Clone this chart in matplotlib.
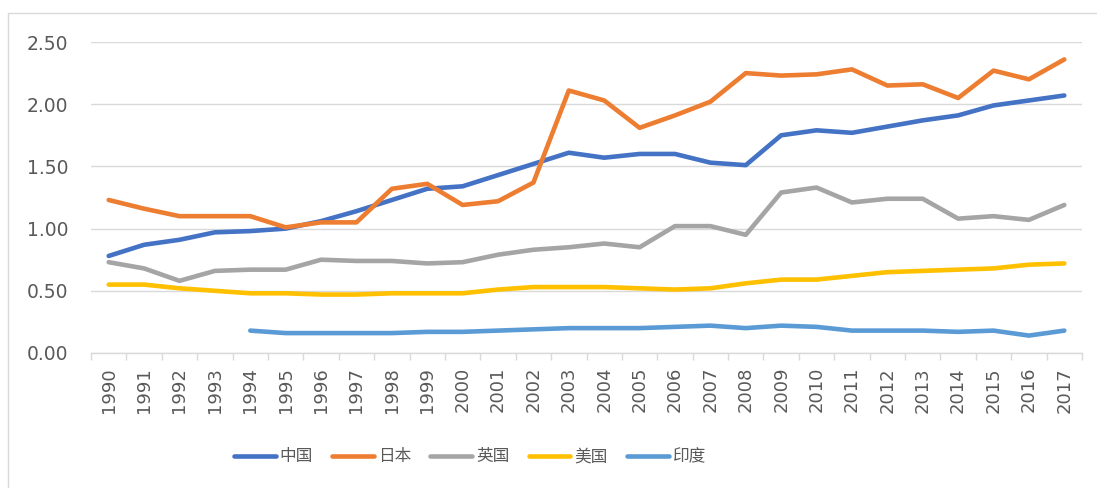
import matplotlib.pyplot as plt
import numpy as np
from matplotlib.patches import Rectangle

plt.rcParams['font.family'] = ['DejaVu Sans', 'Noto Sans CJK SC']

years = [str(y) for y in range(1990, 2018)]

china = [0.78, 0.87, 0.91, 0.97, 0.98, 1.00, 1.06, 1.14, 1.23, 1.32, 1.34, 1.43, 1.52, 1.61,
         1.57, 1.60, 1.60, 1.53, 1.51, 1.75, 1.79, 1.77, 1.82, 1.87, 1.91, 1.99, 2.03, 2.07]
japan = [1.23, 1.16, 1.10, 1.10, 1.10, 1.01, 1.05, 1.05, 1.32, 1.36, 1.19, 1.22, 1.37, 2.11,
         2.03, 1.81, 1.91, 2.02, 2.25, 2.23, 2.24, 2.28, 2.15, 2.16, 2.05, 2.27, 2.20, 2.36]
uk = [0.73, 0.68, 0.58, 0.66, 0.67, 0.67, 0.75, 0.74, 0.74, 0.72, 0.73, 0.79, 0.83, 0.85,
      0.88, 0.85, 1.02, 1.02, 0.95, 1.29, 1.33, 1.21, 1.24, 1.24, 1.08, 1.10, 1.07, 1.19]
usa = [0.55, 0.55, 0.52, 0.50, 0.48, 0.48, 0.47, 0.47, 0.48, 0.48, 0.48, 0.51, 0.53, 0.53,
       0.53, 0.52, 0.51, 0.52, 0.56, 0.59, 0.59, 0.62, 0.65, 0.66, 0.67, 0.68, 0.71, 0.72]
# no data for India before 1994
india = [None, None, None, None, 0.18, 0.16, 0.16, 0.16, 0.16, 0.17, 0.17, 0.18, 0.19, 0.20,
         0.20, 0.20, 0.21, 0.22, 0.20, 0.22, 0.21, 0.18, 0.18, 0.18, 0.17, 0.18, 0.14, 0.18]

series = [('中国', china, '#4472C4'),
          ('日本', japan, '#ED7D31'),
          ('英国', uk, '#A5A5A5'),
          ('美国', usa, '#FFC000'),
          ('印度', india, '#5B9BD5')]

fig = plt.figure(figsize=(10.97, 4.88), dpi=100)
fig.patches.append(Rectangle((8 / 1097, -0.05), 1.1, 1 - 13 / 488 + 0.05,
                             transform=fig.transFigure, fill=False,
                             edgecolor='#D9D9D9', linewidth=1))
ax = fig.add_axes([91 / 1097, 1 - 353 / 488, 991 / 1097, 311 / 488])

x = np.arange(len(years))
for name, vals, color in series:
    y = np.array([np.nan if v is None else v for v in vals])
    ax.plot(x, y, color=color, linewidth=3.3, label=name,
            solid_capstyle='round', solid_joinstyle='round')

ax.set_xlim(-0.5, len(years) - 0.5)
ax.set_ylim(0, 2.5)
ax.set_yticks(np.arange(0, 2.51, 0.5))
ax.set_yticklabels([f'{v:.2f}' for v in np.arange(0, 2.51, 0.5)])
ax.set_xticks(x)
ax.set_xticklabels(years, rotation=90)
ax.set_xticks(np.arange(-0.5, len(years)), minor=True)

ax.grid(axis='y', color='#D9D9D9', linewidth=1)
ax.set_axisbelow(True)
for s in ['top', 'right', 'left']:
    ax.spines[s].set_visible(False)
ax.spines['bottom'].set_color('#D9D9D9')
ax.spines['bottom'].set_linewidth(1)
ax.tick_params(axis='y', length=0, labelsize=13.5, labelcolor='#595959', pad=16.5)
ax.tick_params(axis='x', which='major', length=0, labelsize=13, labelcolor='#595959', pad=10)
ax.tick_params(axis='x', which='minor', length=5, color='#D9D9D9', width=1)

fig.legend(loc='center', bbox_to_anchor=(470 / 1097, 1 - 457 / 488), ncol=5, frameon=False,
           prop={'family': ['Noto Sans CJK SC'], 'size': 12},
           handlelength=2.5, handletextpad=0.25, columnspacing=1.15,
           labelcolor='#595959')

fig.savefig('out.png', dpi=100)
